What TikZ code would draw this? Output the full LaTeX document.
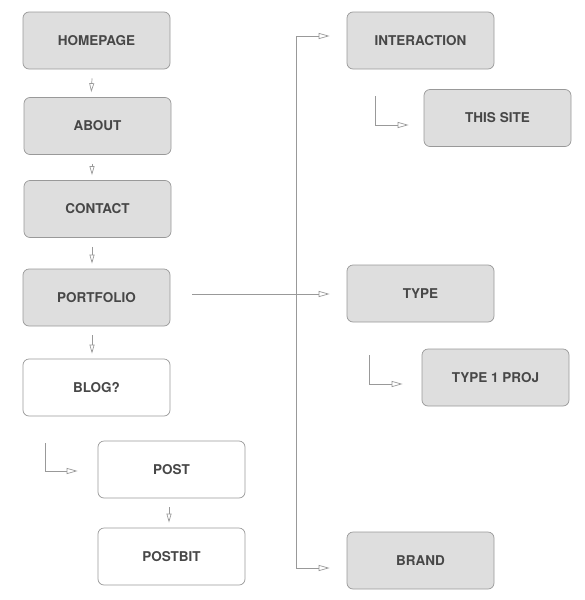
\documentclass[tikz,border=0pt]{standalone}
\usepackage{fontspec}
\setmainfont{TeX Gyre Heros}
\usetikzlibrary{arrows.meta}
\usetikzlibrary{calc}

\begin{document}
\begin{tikzpicture}[ x=1pt, y=-1pt,
      page/.style={ draw=black!40, fill=black!13, rounded corners=6pt,
        minimum width=147pt, minimum height=57pt, line width=0.7pt,
        font=\fontsize{13.5}{16}\selectfont\bfseries, text=black!72},
      plain page/.style={ page, fill=white},
      link/.style={ ->, >={Triangle[open,length=11pt,width=6pt]},
        draw=black!40, line width=0.7pt},
      step link/.style={ link, >={Triangle[open,length=9pt,width=5pt]},
        shorten <=9pt, shorten >=5pt}
      ]
      \useasboundingbox (0,0) rectangle (585,600);

      % left column
      \node[page] (Home) at (96.5,40.5) {HOMEPAGE};
      \node[page] (About) at (97.5,126) {ABOUT};
      \node[page] (Contact) at (97.5,209) {CONTACT};
      \node[page] (Portfolio) at (96.5,297.5) {PORTFOLIO};
      \node[plain page] (Blog) at (96.5,387.5) {BLOG?};
      \node[plain page] (Post) at (171.5,469.5) {POST};
      \node[plain page] (Postbit) at (171.5,556.5) {POSTBIT};

      \draw[step link] ([xshift=-4pt]Home.south) -- ([xshift=-5.5pt]Home.south |- About.north);
      \draw[step link] ([xshift=-5.5pt]About.south) -- ([xshift=-5.5pt]About.north |- Contact.north);
      \draw[step link] ([xshift=-5.5pt]Contact.south) -- ([xshift=-5.5pt]Contact.south |- Portfolio.north);
      \draw[step link] ([xshift=-4.5pt]Portfolio.south) -- ([xshift=-4.5pt]Portfolio.south |- Blog.north);
      \draw[step link] ([xshift=-2.5pt]Post.south) -- ([xshift=-2.5pt]Postbit.north);

      \coordinate (BlogFork) at (45,443);
      \draw[link] (BlogFork) |- ([xshift=-20pt,yshift=-1.5pt]Post.west);

      % right column
      \node[page] (Interaction) at (420.5,40.5) {INTERACTION};
      \node[page] (ThisSite) at (497.5,118) {THIS SITE};
      \node[page] (Type) at (420.5,293.5) {TYPE};
      \node[page] (TypeProj) at (495.5,377.5) {TYPE 1 PROJ};
      \node[page] (Brand) at (420.5,560.5) {BRAND};

      % trunk
      \coordinate (TrunkTop) at (296,36);
      \coordinate (TrunkBot) at (296,568);
      \draw[link] (TrunkBot) -- (TrunkTop) -- ([xshift=-17pt]TrunkTop -| Interaction.west);
      \draw[link] (TrunkBot) -- ([xshift=-17pt]TrunkBot -| Brand.west);
      \draw[link] ([xshift=22pt,yshift=3.5pt]Portfolio.east) -- ([xshift=-17pt,yshift=-0.5pt]Type.west);

      \coordinate (SiteFork) at (375,96);
      \draw[link] (SiteFork) |- ([xshift=-15pt,yshift=-7pt]ThisSite.west);
      \coordinate (ProjFork) at (369,355);
      \draw[link] (ProjFork) |- ([xshift=-19pt,yshift=-6.5pt]TypeProj.west);
\end{tikzpicture}
\end{document}
